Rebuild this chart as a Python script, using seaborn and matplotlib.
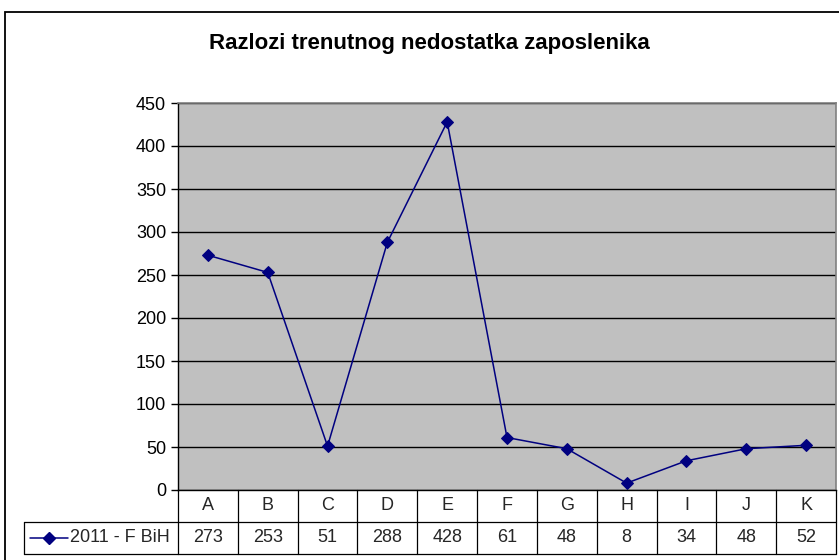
import matplotlib
matplotlib.use('Agg')
import matplotlib.pyplot as plt
import matplotlib.patches as mpatches
import matplotlib.lines as mlines
import seaborn as sns
import pandas as pd

categories = ['A', 'B', 'C', 'D', 'E', 'F', 'G', 'H', 'I', 'J', 'K']
values_2011 = [273, 253, 51, 288, 428, 61, 48, 8, 34, 48, 52]
series_name = '2011 - F BiH'
title = 'Razlozi trenutnog nedostatka zaposlenika'
y_ticks = [0, 50, 100, 150, 200, 250, 300, 350, 400, 450]

df = pd.DataFrame({'kategorija': categories, 'vrijednost': values_2011})
df['pos'] = range(len(df))

sns.set_style('white')
plt.rcParams['font.family'] = ['Liberation Sans', 'DejaVu Sans']

W, H = 839, 560
fig = plt.figure(figsize=(W / 100, H / 100), dpi=100)

# vanjski okvir grafikona (odrezan desno i dolje)
fig.patches.append(mpatches.Rectangle(
    (5 / W, -0.05), 1.2, 1.05 - 12 / H, transform=fig.transFigure,
    fill=False, edgecolor='black', linewidth=1.3))

left, right, top, bottom = 178, 836, 103, 490
ax = fig.add_axes([left / W, 1 - bottom / H, (right - left) / W, (bottom - top) / H])
ax.set_facecolor('#C0C0C0')

sns.lineplot(data=df, x='pos', y='vrijednost', ax=ax, color='#000080',
             marker='D', markersize=6, markeredgecolor='#000080',
             linewidth=1.1, legend=False)

ax.set_xlim(-0.5, len(categories) - 0.5)
ax.set_ylim(0, 450)
ax.set_yticks(y_ticks)
ax.set_xticks([])
ax.set_xlabel('')
ax.set_ylabel('')
ax.grid(axis='y', color='black', linewidth=1)
ax.tick_params(axis='y', direction='out', length=5, width=1, labelsize=13,
               colors='black', left=True)
for side in ['top', 'right']:
    ax.spines[side].set_color('#808080')
    ax.spines[side].set_linewidth(1.2)
ax.spines['left'].set_color('black')
ax.spines['bottom'].set_color('black')
ax.spines['left'].set_linewidth(1)
ax.spines['bottom'].set_linewidth(1)

# podatkovna tablica ispod grafikona
fs = 13
row_h = 32 / (bottom - top)
trans = ax.get_xaxis_transform()
n = len(categories)
for i, (cat, val) in enumerate(zip(categories, values_2011)):
    ax.text(i, -row_h / 2, cat, transform=trans, ha='center', va='center',
            fontsize=fs, clip_on=False)
    ax.text(i, -1.5 * row_h, str(val), transform=trans, ha='center', va='center',
            fontsize=fs, clip_on=False)

grid_kw = dict(color='black', linewidth=0.9, clip_on=False)
for i in range(n + 1):
    ax.add_line(mlines.Line2D([i - 0.5, i - 0.5], [0, -2 * row_h], transform=trans, **grid_kw))
ax.add_line(mlines.Line2D([-0.5, n - 0.5], [-row_h, -row_h], transform=trans, **grid_kw))
ax.add_line(mlines.Line2D([-0.5, n - 0.5], [-2 * row_h, -2 * row_h], transform=trans, **grid_kw))

# legenda u tablici
lx0 = (24 - left) / (right - left)
ax.add_line(mlines.Line2D([lx0, 0], [-row_h, -row_h], transform=ax.transAxes, **grid_kw))
ax.add_line(mlines.Line2D([lx0, 0], [-2 * row_h, -2 * row_h], transform=ax.transAxes, **grid_kw))
ax.add_line(mlines.Line2D([lx0, lx0], [-row_h, -2 * row_h], transform=ax.transAxes, **grid_kw))
kx0 = (30 - left) / (right - left)
kx1 = (68 - left) / (right - left)
ax.add_line(mlines.Line2D([kx0, kx1], [-1.5 * row_h] * 2, transform=ax.transAxes,
                          color='#000080', linewidth=1.1, clip_on=False))
ax.add_line(mlines.Line2D([(kx0 + kx1) / 2], [-1.5 * row_h], transform=ax.transAxes,
                          color='#000080', marker='D', markersize=6, linestyle='none',
                          clip_on=False))
ax.text((70 - left) / (right - left), -1.5 * row_h, series_name, transform=ax.transAxes,
        ha='left', va='center', fontsize=fs, clip_on=False)

fig.text(429 / W, 1 - 44 / H, title, ha='center', va='center', fontsize=16,
         fontweight='bold', color='black')

fig.savefig('out.png', dpi=100)
